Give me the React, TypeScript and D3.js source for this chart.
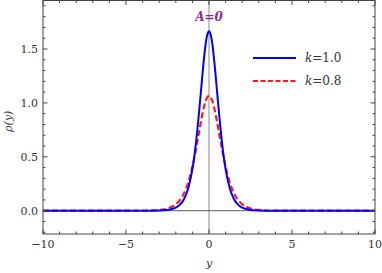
import React from "react";
import * as d3 from "d3";

// sample points along y
const yVals = [
  -10, -8, -6, -4, -3, -2.5, -2, -1.75, -1.5, -1.25, -1, -0.9, -0.8, -0.7, -0.6, -0.5, -0.4, -0.3, -0.2, -0.1,
  0, 0.1, 0.2, 0.3, 0.4, 0.5, 0.6, 0.7, 0.8, 0.9, 1, 1.25, 1.5, 1.75, 2, 2.5, 3, 4, 6, 8, 10,
];
const rhoK10 = [
  0, 0, 0, 0, 0.002, 0.007, 0.029, 0.056, 0.109, 0.208, 0.386, 0.487, 0.609, 0.751, 0.911, 1.082, 1.254, 1.415, 1.547, 1.634,
  1.664, 1.634, 1.547, 1.415, 1.254, 1.082, 0.911, 0.751, 0.609, 0.487, 0.386, 0.208, 0.109, 0.056, 0.029, 0.007, 0.002, 0, 0, 0, 0,
];
const rhoK08 = [
  0, 0, 0, 0.001, 0.007, 0.021, 0.06, 0.099, 0.163, 0.263, 0.408, 0.479, 0.558, 0.642, 0.728, 0.814, 0.894, 0.964, 1.018, 1.053,
  1.065, 1.053, 1.018, 0.964, 0.894, 0.814, 0.728, 0.642, 0.558, 0.479, 0.408, 0.263, 0.163, 0.099, 0.06, 0.021, 0.007, 0.001, 0, 0, 0,
];
const xTicks = [-10, -5, 0, 5, 10];
const yTicks = [0, 0.5, 1, 1.5];
const legendLabels = ["1.0", "0.8"];

const W = 382;
const H = 273;
const m = { left: 43, right: 7, top: 0.5, bottom: 39 };

export default function App() {
  const x = d3.scaleLinear().domain([-10, 10]).range([m.left, W - m.right]);
  const y = d3.scaleLinear().domain([-0.216, 1.95]).range([H - m.bottom, m.top]);

  const line = (vals: number[]) =>
    d3
      .line<number>()
      .x((_, i) => x(yVals[i]))
      .y((d) => y(d))
      .curve(d3.curveMonotoneX)(vals) || "";

  const x0 = x.range()[0], x1 = x.range()[1];
  const y0 = y.range()[0], y1 = y.range()[1];
  const axisCol = "#444";
  const font = "DejaVu Serif";

  const xMinor = d3.range(-10, 10.01, 1);
  const yMinor = d3.range(-0.2, 1.95, 0.1).map((v) => Math.round(v * 10) / 10);
  const fmtX = (v: number) => (v < 0 ? "\u2212" + Math.abs(v) : String(v));

  return (
    <svg width={W} height={H} style={{ position: "absolute", left: 0, top: 0, background: "#fff" }}>
      {/* zero lines */}
      <line x1={x(0)} x2={x(0)} y1={y0} y2={y1} stroke="#888" strokeWidth={1} />
      <line x1={x0} x2={x1} y1={y(0)} y2={y(0)} stroke="#333" strokeWidth={0.8} />

      {/* curves */}
      <path d={line(rhoK08)} fill="none" stroke="#ff1a1a" strokeWidth={2.2} strokeDasharray="6,3" />
      <path d={line(rhoK10)} fill="none" stroke="#0000ff" strokeWidth={2} />

      {/* frame */}
      <rect x={x0} y={y1} width={x1 - x0} height={y0 - y1} fill="none" stroke={axisCol} strokeWidth={1} />

      {/* ticks, all four sides, inward */}
      {xMinor.map((v) => {
        const len = v % 5 === 0 ? 4.5 : 2.5;
        return (
          <g key={"xt" + v}>
            <line x1={x(v)} x2={x(v)} y1={y0} y2={y0 - len} stroke={axisCol} />
            <line x1={x(v)} x2={x(v)} y1={y1} y2={y1 + len} stroke={axisCol} />
          </g>
        );
      })}
      {yMinor.map((v) => {
        const len = Math.abs((v * 10) % 5) < 1e-6 ? 4.5 : 2.5;
        return (
          <g key={"yt" + v}>
            <line x1={x0} x2={x0 + len} y1={y(v)} y2={y(v)} stroke={axisCol} />
            <line x1={x1} x2={x1 - len} y1={y(v)} y2={y(v)} stroke={axisCol} />
          </g>
        );
      })}

      {/* tick labels */}
      {xTicks.map((v) => (
        <text key={"xl" + v} x={x(v)} y={y0 + 14} textAnchor="middle" fontFamily={font} fontSize={11} fill="#333">
          {fmtX(v)}
        </text>
      ))}
      {yTicks.map((v) => (
        <text key={"yl" + v} x={x0 - 5} y={y(v)} dy="0.35em" textAnchor="end" fontFamily={font} fontSize={11} fill="#333">
          {v.toFixed(1)}
        </text>
      ))}

      {/* axis labels */}
      <text x={x(0)} y={H - 6} textAnchor="middle" fontFamily={font} fontStyle="italic" fontSize={11} fill="#333">
        y
      </text>
      <text
        transform={`translate(12,${(y0 + y1) / 2 + 4}) rotate(-90)`}
        textAnchor="middle"
        fontFamily={font}
        fontStyle="italic"
        fontSize={11}
        fill="#333"
      >
        ρ(y)
      </text>

      {/* title */}
      <text x={x(0)} y={21} textAnchor="middle" fontFamily={font} fontStyle="italic" fontWeight="bold" fontSize={12} fill="#8a2e8a">
        A=0
      </text>

      {/* legend */}
      {legendLabels.map((lab, i) => {
        const ly = 58 + i * 23;
        return (
          <g key={"lg" + lab}>
            <line
              x1={253}
              x2={296}
              y1={ly}
              y2={ly}
              stroke={i === 0 ? "#0000ff" : "#ff1a1a"}
              strokeWidth={2}
              strokeDasharray={i === 0 ? undefined : "5,2.5"}
            />
            <text x={305} y={ly} dy="0.35em" fontFamily={font} fontSize={12} fill="#333">
              <tspan fontStyle="italic">k</tspan>={lab}
            </text>
          </g>
        );
      })}
    </svg>
  );
}
